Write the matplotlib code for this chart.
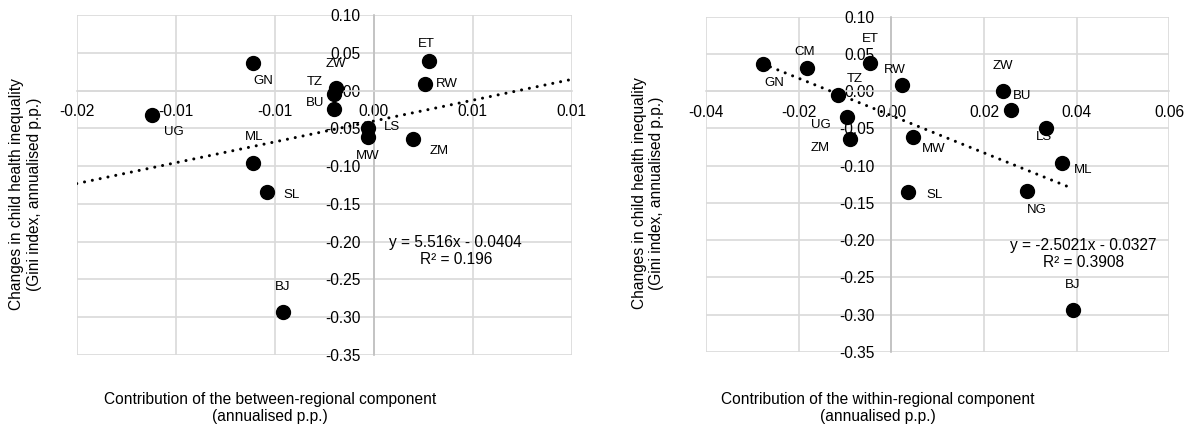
import numpy as np
import matplotlib
matplotlib.use("Agg")
import matplotlib.pyplot as plt

plt.rcParams["font.family"] = ["Liberation Sans", "DejaVu Sans"]

# ---- data: between-regional component (left panel)
paises_b = ["UG", "GN", "ML", "SL", "ZW", "TZ", "BU", "LS", "MW", "ET", "RW", "ZM", "BJ"]
x_between = [-0.0112, -0.0061, -0.0061, -0.0054, -0.0019, -0.0020, -0.0020, -0.0003, -0.0003,
             0.0028, 0.0026, 0.0020, -0.0046]
y_between = [-0.033, 0.037, -0.096, -0.134, 0.004, -0.005, -0.024, -0.049, -0.061,
             0.039, 0.008, -0.064, -0.293]
pend_b, inter_b, r2_b = 5.516, -0.0404, 0.196

# ---- data: within-regional component (right panel)
paises_w = ["GN", "CM", "ET", "RW", "TZ", "UG", "ZM", "MW", "SL", "ZW", "BU", "LS", "ML", "NG", "BJ"]
x_within = [-0.0277, -0.0182, -0.0046, 0.0022, -0.0115, -0.0095, -0.0090, 0.0046, 0.0037,
            0.0241, 0.0259, 0.0333, 0.0368, 0.0293, 0.0392]
y_within = [0.037, 0.031, 0.038, 0.008, -0.005, -0.034, -0.064, -0.061, -0.135,
            0.000, -0.025, -0.050, -0.097, -0.134, -0.293]
pend_w, inter_w, r2_w = -2.5021, -0.0327, 0.3908

xticks_b = [-0.015, -0.01, -0.005, 0.0, 0.005, 0.01]
xticks_w = [-0.04, -0.02, 0.0, 0.02, 0.04, 0.06]
yticks = [0.10, 0.05, 0.00, -0.05, -0.10, -0.15, -0.20, -0.25, -0.30, -0.35]

# desplazamientos de etiquetas (pixeles)
off_b = {"UG": (22, -17), "GN": (10, -18), "ML": (1, 26), "SL": (25, -3), "ZW": (0, 24),
         "TZ": (-19, 12), "BU": (-19, 6), "LS": (24, 1), "MW": (0, -19), "ET": (-3, 17),
         "RW": (22, 0), "ZM": (26, -12), "BJ": (0, 25)}
off_w = {"GN": (11, -19), "CM": (-2, 16), "ET": (0, 24), "RW": (-7, 15), "TZ": (17, 16),
         "UG": (-26, -8), "ZM": (-29, -9), "MW": (21, -12), "SL": (26, -3), "ZW": (0, 25),
         "BU": (11, 14), "LS": (-2, -9), "ML": (21, -7), "NG": (10, -19), "BJ": (0, 25)}

FS = 11.2


def fmt2(v):
    # redondeo tipo Excel (mitad hacia afuera)
    r = np.sign(v) * np.floor(abs(v) * 100 + 0.5 + 1e-9) / 100
    return f"{r:.2f}"


def panel(ax, xs, ys, paises, offs, xticks, pend, inter, r2, x_linea, eq_pos, ypad):
    ax.set_xlim(xticks[0], xticks[-1])
    ax.set_ylim(yticks[-1], yticks[0])
    ax.set_xticks(xticks)
    ax.set_xticklabels([fmt2(t) for t in xticks])
    ax.set_yticks(yticks)
    ax.set_yticklabels([f"{t:.2f}" for t in yticks])
    ax.grid(True, color="#d9d9d9", linewidth=1.2)
    ax.set_axisbelow(True)
    for s in ["top", "right"]:
        ax.spines[s].set_visible(False)
    ax.spines["left"].set_position(("data", 0))
    ax.spines["bottom"].set_position(("data", 0))
    ax.spines["left"].set_color("#bfbfbf")
    ax.spines["bottom"].set_color("#d9d9d9")
    ax.spines["left"].set_linewidth(1.2)
    ax.spines["bottom"].set_linewidth(1.2)
    ax.tick_params(axis="x", length=0, pad=10, labelsize=FS, colors="black")
    ax.tick_params(axis="y", length=0, pad=ypad, labelsize=FS, colors="black")

    ax.scatter(xs, ys, s=100, color="black", zorder=3, clip_on=False)
    for p, x, y in zip(paises, xs, ys):
        ax.annotate(p, (x, y), xytext=offs[p], textcoords="offset pixels",
                    ha="center", va="center", fontsize=9.5)

    xl = np.array(x_linea)
    ax.plot(xl, pend * xl + inter, linestyle=(0, (0.01, 2.6)), color="black",
            linewidth=2.2, dash_capstyle="round", zorder=4)

    signo = "-" if inter < 0 else "+"
    ax.text(eq_pos[0], eq_pos[1], f"y = {pend}x {signo} {abs(inter)}\nR² = {r2}",
            transform=ax.transAxes, ha="center", va="center", fontsize=FS,
            linespacing=1.2)


fig = plt.figure(figsize=(11.95, 4.28), dpi=100)
ax1 = fig.add_axes([0.0642, 0.1706, 0.4142, 0.7944])
ax2 = fig.add_axes([0.5908, 0.1776, 0.3877, 0.7834])

panel(ax1, x_between, y_between, paises_b, off_b, xticks_b, pend_b, inter_b, r2_b,
      [xticks_b[0], xticks_b[-1]], (0.766, 0.305), 9.5)
panel(ax2, x_within, y_within, paises_w, off_w, xticks_w, pend_w, inter_w, r2_w,
      [min(x_within), max(x_within)], (0.814, 0.292), 12)

ylab = "Changes in child health inequality\n(Gini index, annualised p.p.)"
fig.text(0.0215, 0.547, ylab, rotation=90, ha="center", va="center", fontsize=FS)
fig.text(0.5423, 0.548, ylab, rotation=90, ha="center", va="center", fontsize=FS)
fig.text(0.226, 0.047, "Contribution of the between-regional component\n(annualised p.p.)",
         ha="center", va="center", fontsize=FS)
fig.text(0.7344, 0.047, "Contribution of the within-regional component\n(annualised p.p.)",
         ha="center", va="center", fontsize=FS)

fig.savefig("out.png", dpi=100)
